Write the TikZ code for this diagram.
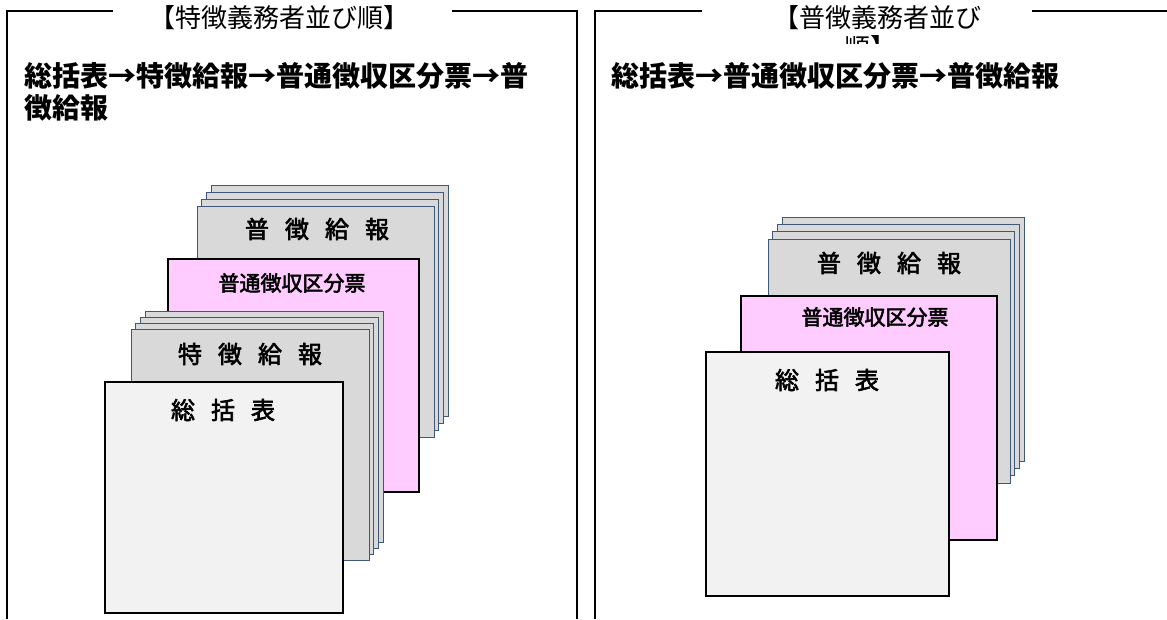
\documentclass[tikz,border=0pt]{standalone}
\usepackage{fontspec}
\setmainfont{Noto Sans CJK JP}
\newfontfamily\tagfont{Noto Sans CJK JP}[FakeBold=2.5]

\definecolor{sheetgray}{HTML}{D9D9D9}
\definecolor{sheetedge}{HTML}{3F5878}
\definecolor{slippink}{HTML}{FFCCFF}
\definecolor{covergray}{HTML}{F2F2F2}

\tikzset{
  frame/.style={line width=1.8pt},
  sheet/.style={draw=sheetedge,fill=sheetgray,line width=1pt},
  slip/.style={draw=black,fill=slippink,line width=2pt},
  cover/.style={draw=black,fill=covergray,line width=2pt},
  title/.style={inner sep=0,font=\fontsize{26}{31}\selectfont},
  lead/.style={inner sep=0,anchor=west,font=\bfseries\fontsize{28}{32}\selectfont},
  tag/.style={inner sep=0,font=\tagfont\fontsize{24}{28}\selectfont},
  slipname/.style={inner sep=0,font=\tagfont\fontsize{21}{25}\selectfont}
}
\newcommand\lgap{\hspace{16pt}}

\begin{document}
\begin{tikzpicture}[x=1pt,y=-1pt]
\useasboundingbox[fill=white] (0,0) rectangle (1167,619);

% two frames, open at the top for the headings
\draw[frame] (113,11) -- (7,11) -- (7,619);
\draw[frame] (452,11) -- (577,11) -- (577,619);
\draw[frame] (702,11) -- (595,11) -- (595,619);
\draw[frame] (1032,11) -- (1167,11);
\node[title] (headL) at (279,18) {【特徴義務者並び順】};
\node[title] (headR) at (877,18) {【普徴義務者並び};
\begin{scope}
  \clip (820,30) rectangle (940,43);
  \node[title] (headRb) at (870,48) {順】};
\end{scope}

\node[lead] (orderL) at (24,76) {総括表→特徴給報→普通徴収区分票→普};
\node[lead] (orderLb) at (24,108) {徴給報};
\node[lead] (orderR) at (611,76) {総括表→普通徴収区分票→普徴給報};

% left stack
\foreach \i in {3,2,1,0}
  \draw[sheet] ({197+4.7*\i},{206-7*\i}) rectangle ({434+4.7*\i},{437-7*\i});
\node[tag] (fuchoL) at (317,229) {普\lgap 徴\lgap 給\lgap 報};
\draw[slip] (168,259) rectangle (419,492);
\node[slipname] (kubunL) at (292,283) {普通徴収区分票};
\foreach \i in {3,2,1,0}
  \draw[sheet] ({131+4.7*\i},{329-6*\i}) rectangle ({369+4.7*\i},{560-6*\i});
\node[tag] (tokuchoL) at (250,354) {特\lgap 徴\lgap 給\lgap 報};
\draw[cover] (105,382) rectangle (343,613);
\node[tag] (soukatsuL) at (223,410) {総\lgap 括\lgap 表};

% right stack
\foreach \i in {3,2,1,0}
  \draw[sheet] ({768+4.7*\i},{239-7.3*\i}) rectangle ({1010+4.7*\i},{483-7.3*\i});
\node[tag] (fuchoR) at (889,263) {普\lgap 徴\lgap 給\lgap 報};
\draw[slip] (741,296) rectangle (997,540);
\node[slipname] (kubunR) at (875,317) {普通徴収区分票};
\draw[cover] (706,352) rectangle (949,596);
\node[tag] (soukatsuR) at (827,380) {総\lgap 括\lgap 表};
\end{tikzpicture}
\end{document}
